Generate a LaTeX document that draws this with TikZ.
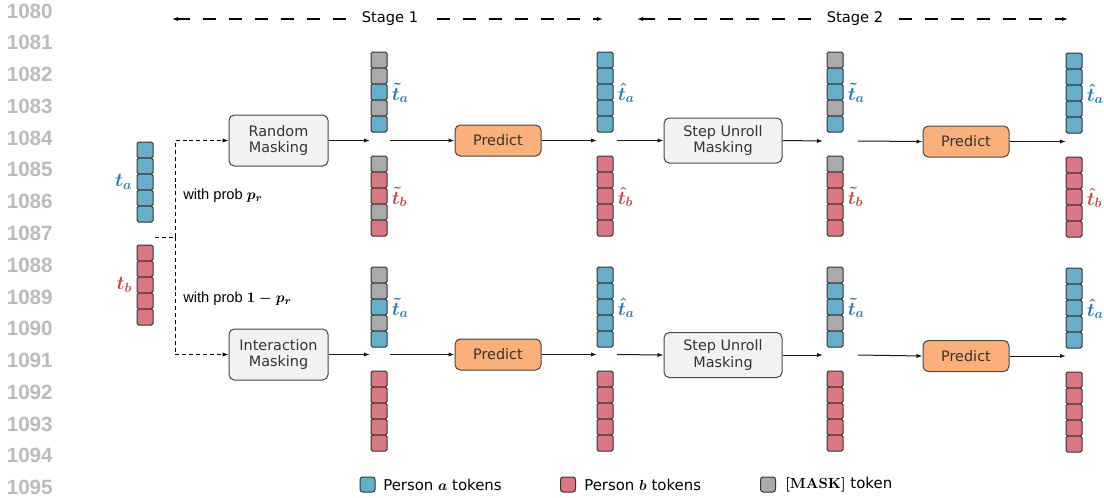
\documentclass[tikz,border=0pt]{standalone}
\usepackage[no-math]{fontspec}
\setmainfont{DejaVu Sans}
\newfontfamily\numfont{Liberation Sans}
\newfontfamily\probfont{Liberation Sans}
\usetikzlibrary{arrows.meta,calc}

\definecolor{tokA}{HTML}{67AFC8}
\definecolor{tokB}{HTML}{D97782}
\definecolor{tokM}{HTML}{AAAAAA}
\definecolor{labA}{HTML}{2B7BAA}
\definecolor{labB}{HTML}{BF4E4A}
\definecolor{predfill}{HTML}{FBB07C}
\definecolor{maskfill}{HTML}{F2F2F2}
\definecolor{edgecol}{HTML}{333333}
\definecolor{linenum}{HTML}{BBBBBB}

% one column of five tokens: name, x, top y, colour letters
\newcommand\tokcol[4]{%
  \foreach \c [count=\i] in {#4} {
    \node[tok, fill=tok\c] (#1-\i) at (#2, {#3 + 8 + 16*(\i-1)}) {};
  }%
}

\tikzset{
  tok/.style={draw=edgecol, line width=0.75pt, rounded corners=1.2pt,
    minimum width=12pt, minimum height=12pt, inner sep=0pt, outer sep=0pt},
  boxbase/.style={draw=edgecol!90, line width=0.75pt, rounded corners=4pt,
    align=center, inner sep=0pt, text=black!80,
    font=\fontsize{10.8}{12.6}\selectfont},
  maskbox/.style={boxbase, fill=maskfill},
  predbox/.style={boxbase, fill=predfill, minimum width=64.5pt, minimum height=23.25pt},
  flow/.style={-{Latex[length=4.5pt,width=3.2pt]}, line width=0.75pt, draw=black!90},
  branch/.style={line width=0.75pt, dash pattern=on 3pt off 2.2pt},
  stagearr/.style={line width=1.1pt, dash pattern=on 9.5pt off 10pt},
  lab/.style={font=\fontsize{14}{16}\selectfont\boldmath, inner sep=0pt},
  numstyle/.style={font=\numfont\bfseries\fontsize{15.5}{17}\selectfont, text=linenum, inner sep=0pt},
  stagetxt/.style={font=\fontsize{11}{13}\selectfont, inner sep=0pt},
  probtxt/.style={font=\probfont\fontsize{11}{13}\selectfont\boldmath, inner sep=0pt},
  legtext/.style={font=\fontsize{11.2}{13}\selectfont\boldmath, inner sep=0pt},
  legsq/.style={tok, minimum width=11.25pt, minimum height=11.25pt, rounded corners=2pt},
}

\begin{document}
\begin{tikzpicture}[x=0.75pt, y=-0.75pt]
\useasboundingbox (0,0) rectangle (1104,497);

% line numbers in the margin
\foreach \n in {0,...,15} {
  \node[numstyle, anchor=west] (ln\n) at (6.5, {11 + 31.77*\n}) {\the\numexpr1080+\n\relax};
}

% stage headers
\node[stagetxt] (st1) at (390,19) {Stage 1};
\node[stagetxt] (st2) at (855,19) {Stage 2};
\coordinate (st1l) at (172,19);
\coordinate (st1r) at (603,19);
\coordinate (st2l) at (637,19);
\coordinate (st2r) at (1068,19);
\draw[stagearr, {Latex[length=4.5pt,width=3.2pt]}-] (st1l) -- ($(st1.west)+(-15,0)$);
\draw[stagearr, -{Latex[length=4.5pt,width=3.2pt]}] ($(st1.east)+(19,0)$) -- (st1r);
\draw[stagearr, {Latex[length=4.5pt,width=3.2pt]}-] (st2l) -- ($(st2.west)+(-16,0)$);
\draw[stagearr, -{Latex[length=4.5pt,width=3.2pt]}] ($(st2.east)+(16,0)$) -- (st2r);

% input tokens
\tokcol{ina}{145}{142}{A,A,A,A,A}
\tokcol{inb}{145}{245}{B,B,B,B,B}
\node[lab, text=labA, anchor=east] (lina) at ($(ina-3.west)+(-4.5,0)$) {$t_a$};
\node[lab, text=labB, anchor=east] (linb) at ($(inb-3.west)+(-4.5,0)$) {$t_b$};

% upper branch columns
\tokcol{u2a}{379}{52}{M,M,A,M,A}
\tokcol{u2b}{379}{156}{M,B,B,M,B}
\tokcol{u3a}{605}{52}{A,A,A,A,A}
\tokcol{u3b}{605}{156}{B,B,B,B,B}
\tokcol{u4a}{835}{52}{M,A,A,M,A}
\tokcol{u4b}{835}{156}{M,B,B,B,B}
\tokcol{u5a}{1074}{53}{A,A,A,A,A}
\tokcol{u5b}{1074}{157}{B,B,B,B,B}

% lower branch columns
\tokcol{d2a}{379}{267}{M,M,A,M,A}
\tokcol{d2b}{379}{371}{B,B,B,B,B}
\tokcol{d3a}{605}{267}{A,A,A,A,A}
\tokcol{d3b}{605}{371}{B,B,B,B,B}
\tokcol{d4a}{835}{267}{M,A,A,M,A}
\tokcol{d4b}{835}{371}{B,B,B,B,B}
\tokcol{d5a}{1074}{268}{A,A,A,A,A}
\tokcol{d5b}{1074}{372}{B,B,B,B,B}

% token labels
\node[lab, text=labA, anchor=west] (lu2a) at ($(u2a-3.east)+(4.5,1)$) {$\tilde{t}_a$};
\node[lab, text=labB, anchor=west] (lu2b) at ($(u2b-3.east)+(4.5,1)$) {$\tilde{t}_b$};
\node[lab, text=labA, anchor=west] (lu3a) at ($(u3a-3.east)+(4.5,1)$) {$\hat{t}_a$};
\node[lab, text=labB, anchor=west] (lu3b) at ($(u3b-3.east)+(4.5,1)$) {$\hat{t}_b$};
\node[lab, text=labA, anchor=west] (lu4a) at ($(u4a-3.east)+(4.5,1)$) {$\tilde{t}_a$};
\node[lab, text=labB, anchor=west] (lu4b) at ($(u4b-3.east)+(4.5,1)$) {$\tilde{t}_b$};
\node[lab, text=labA, anchor=west] (lu5a) at ($(u5a-3.east)+(4.5,1)$) {$\hat{t}_a$};
\node[lab, text=labB, anchor=west] (lu5b) at ($(u5b-3.east)+(4.5,1)$) {$\hat{t}_b$};
\node[lab, text=labA, anchor=west] (ld2a) at ($(d2a-3.east)+(4.5,1)$) {$\tilde{t}_a$};
\node[lab, text=labA, anchor=west] (ld3a) at ($(d3a-3.east)+(4.5,1)$) {$\hat{t}_a$};
\node[lab, text=labA, anchor=west] (ld4a) at ($(d4a-3.east)+(4.5,1)$) {$\tilde{t}_a$};
\node[lab, text=labA, anchor=west] (ld5a) at ($(d5a-3.east)+(4.5,1)$) {$\hat{t}_a$};

% processing boxes
\node[maskbox, minimum width=74.25pt, minimum height=38.25pt] (rm) at (278.5,140.5) {Random\\Masking};
\node[maskbox, minimum width=74.25pt, minimum height=38.25pt] (im) at (278.5,354.5) {Interaction\\Masking};
\node[predbox] (p1u) at (498,140.5) {Predict};
\node[predbox] (p1d) at (498,354.5) {Predict};
\node[maskbox, minimum width=88.5pt, minimum height=33.75pt] (suu) at (723,140.5) {Step Unroll\\Masking};
\node[maskbox, minimum width=88.5pt, minimum height=33.75pt] (sud) at (723,355) {Step Unroll\\Masking};
\node[predbox] (p2u) at (966,141.5) {Predict};
\node[predbox] (p2d) at (966,356) {Predict};

% branching from the input
\coordinate (split) at (155,237);
\coordinate (fork) at (175,237);
\draw[branch] (split) -- (fork);
\draw[branch, -{Latex[length=4.5pt,width=3.2pt]}] (fork) |- (rm.west);
\draw[branch, -{Latex[length=4.5pt,width=3.2pt]}] (fork) |- (im.west);
\node[probtxt, anchor=west] (pr1) at (183,196) {with prob $p_r$};
\node[probtxt, anchor=west] (pr2) at (183,299) {with prob $1-p_r$};

% flow along the upper branch
\coordinate (u2in) at (370,140.5);
\coordinate (u2out) at (390,140.5);
\coordinate (u3in) at (597,140.5);
\coordinate (u3out) at (617,140.5);
\coordinate (u4in) at (823,141);
\coordinate (u4out) at (858,141);
\coordinate (u5in) at (1066,141.5);
\draw[flow] (rm.east) -- (u2in);
\draw[flow] (u2out) -- (p1u.west);
\draw[flow] (p1u.east) -- (u3in);
\draw[flow] (u3out) -- (suu.west);
\draw[flow] (suu.east) -- (u4in);
\draw[flow] (u4out) -- (p2u.west);
\draw[flow] (p2u.east) -- (u5in);

% flow along the lower branch
\coordinate (d2in) at (370,354.5);
\coordinate (d2out) at (390,354.5);
\coordinate (d3in) at (597,354.5);
\coordinate (d3out) at (617,354.5);
\coordinate (d4in) at (823,355);
\coordinate (d4out) at (858,355);
\coordinate (d5in) at (1066,356);
\draw[flow] (im.east) -- (d2in);
\draw[flow] (d2out) -- (p1d.west);
\draw[flow] (p1d.east) -- (d3in);
\draw[flow] (d3out) -- (sud.west);
\draw[flow] (sud.east) -- (d4in);
\draw[flow] (d4out) -- (p2d.west);
\draw[flow] (p2d.east) -- (d5in);

% legend
\node[legsq, fill=tokA] (lgA) at (367.5,484.5) {};
\node[legtext, anchor=west] (lgAt) at (383,484.5) {Person $a$ tokens};
\node[legsq, fill=tokB] (lgB) at (568,484.5) {};
\node[legtext, anchor=west] (lgBt) at (584,484.5) {Person $b$ tokens};
\node[legsq, fill=tokM] (lgM) at (768,484.5) {};
\node[legtext, anchor=west] (lgMt) at (785,484.5) {$[\mathrm{MASK}]$ token};
\end{tikzpicture}
\end{document}
